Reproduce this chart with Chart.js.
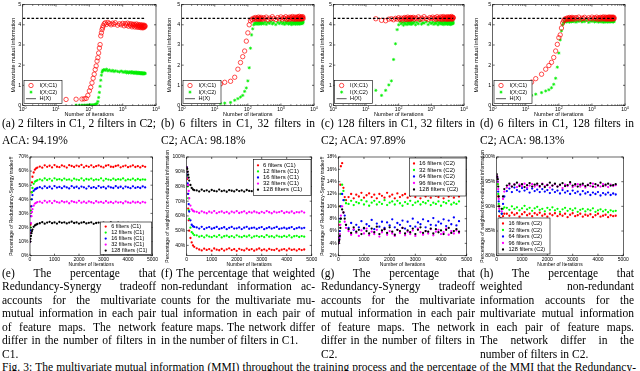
<!DOCTYPE html>
<html>
<head>
<meta charset="utf-8">
<script src="https://cdn.jsdelivr.net/npm/chart.js@4.4.1/dist/chart.umd.min.js"></script>
<style>
  html, body { margin: 0; padding: 0; background: #fff; }
  body { width: 640px; height: 371px; overflow: hidden; position: relative; }
  canvas { position: absolute; }
  .ln { position: absolute; width: 154px; font: 11.5px/13.4px "Liberation Serif", "Times New Roman", serif; color: #000;
        text-align: justify; text-align-last: justify; }
  .ln.end { text-align-last: left; }
  .fig { position: absolute; left: 2px; width: 634px; font: 11.5px/13.4px "Liberation Serif", "Times New Roman", serif;
         text-align: justify; text-align-last: justify; }
</style>
</head>
<body>
<canvas id="ca" width="160" height="118" style="left:0px;top:0px"></canvas>
<canvas id="cb" width="160" height="118" style="left:160px;top:0px"></canvas>
<canvas id="cc" width="162" height="118" style="left:318px;top:0px"></canvas>
<canvas id="cd" width="168" height="118" style="left:472px;top:0px"></canvas>
<canvas id="ce" width="160" height="118" style="left:0px;top:150px"></canvas>
<canvas id="cf" width="160" height="118" style="left:160px;top:150px"></canvas>
<canvas id="cg" width="162" height="118" style="left:318px;top:150px"></canvas>
<canvas id="ch" width="162" height="118" style="left:478px;top:150px"></canvas>
<div id="caps"></div>
<script>
// ---------- top row: MMI vs iterations (log x) ----------
const iterTop = [5, 10, 15, 20, 30, 40, 50, 60, 70, 80, 90, 100, 110, 120, 130, 140, 150, 160, 170, 180, 190, 200, 210, 220, 230, 240, 250, 260,
  280, 300, 330, 360, 400, 450, 500, 550, 600, 700, 800, 900, 1000,
  1100, 1200, 1300, 1400, 1500, 1600, 1700, 1800, 1900, 2000, 2100, 2200, 2300, 2400, 2500, 2600, 2700, 2800, 2900, 3000,
  3100, 3200, 3300, 3400, 3500, 3600, 3700, 3800, 3900, 4000, 4100, 4200, 4300, 4400, 4500, 4600, 4700];
const hxIter = [1, 4700];
const hxVal = [4.32, 4.32];

const aC1 = [null, null, null, 0.30, null, 0.31, null, 0.32, 0.33, 0.35, 0.50, 0.72, 0.90, 1.12, 1.35, 1.55, 1.78, 1.96, 2.20, 2.37, 2.60, 2.85, 3.02, 3.45, 3.60, 3.76, 3.85, 3.95,
  4.05, 4.10, 4.02, 4.12, 4.06, 4.00, 4.08, 4.03, 4.10, 3.98, 4.05, 4.00, 4.07,
  3.95, 4.06, 3.98, 4.08, 3.93, 4.04, 3.97, 4.05, 3.90, 4.02, 3.96, 4.03, 3.89, 3.99, 3.94, 4.04, 3.88, 3.97, 3.93,
  4.01, 3.87, 3.96, 3.92, 4.00, 3.86, 3.95, 3.90, 3.99, 3.85, 3.94, 3.89, 3.98, 3.86, 3.93, 3.90, 3.97, 3.92];
const aC2 = [null, null, null, null, null, 0.02, 0.02, 0.02, 0.02, 0.02, 0.02, 0.03, 0.03, 0.03, 0.03, 0.04, 0.05, 0.07, 0.10, 0.20, 0.40, 0.65, 0.95, 1.25, 1.50, 1.65, 1.72, 1.76,
  1.78, 1.74, 1.80, 1.72, 1.76, 1.70, 1.74, 1.68, 1.72, 1.69, 1.66, 1.71, 1.67,
  1.64, 1.69, 1.62, 1.67, 1.61, 1.66, 1.63, 1.68, 1.60, 1.65, 1.62, 1.66, 1.59, 1.64, 1.61, 1.65, 1.58, 1.63, 1.60,
  1.64, 1.58, 1.62, 1.59, 1.63, 1.57, 1.62, 1.58, 1.61, 1.57, 1.62, 1.58, 1.60, 1.56, 1.61, 1.58, 1.60, 1.59];
const bC1 = [null, null, 1.07, 1.15, 1.20, 1.40, 1.80, 2.13, 2.42, 2.70, 3.19, 3.60, 4.00, 4.20, 4.28, 4.25, 4.33, 4.29, 4.36, 4.27, 4.34, 4.30, 4.38, 4.26, 4.33, 4.29, 4.37, 4.31,
  4.27, 4.35, 4.30, 4.38, 4.25, 4.33, 4.29, 4.40, 4.31, 4.26, 4.36, 4.30, 4.39,
  4.28, 4.35, 4.31, 4.40, 4.26, 4.34, 4.30, 4.38, 4.27, 4.36, 4.32, 4.41, 4.29, 4.34, 4.28, 4.39, 4.31, 4.36, 4.27,
  4.35, 4.33, 4.40, 4.29, 4.37, 4.30, 4.42, 4.28, 4.35, 4.32, 4.39, 4.30, 4.36, 4.29, 4.38, 4.33, 4.40, 4.31];
const bC2 = [null, null, 0.10, 0.12, 0.15, 0.26, 0.34, 0.42, 0.50, 0.70, 0.87, 1.22, 1.87, 2.84, 3.50, 3.80, 4.00, 4.08, 4.05, 4.12, 4.02, 4.10, 4.06, 4.14, 4.03, 4.09, 4.12, 4.04,
  4.10, 4.05, 4.13, 4.02, 4.11, 4.07, 4.15, 4.04, 4.10, 4.01, 4.12, 4.06, 4.14,
  4.05, 4.11, 4.02, 4.13, 4.07, 4.16, 4.03, 4.10, 4.06, 4.14, 4.01, 4.09, 4.12, 4.04, 4.15, 4.07, 4.11, 4.02, 4.13,
  4.08, 4.16, 4.04, 4.10, 4.06, 4.14, 4.03, 4.11, 4.07, 4.15, 4.05, 4.12, 4.08, 4.16, 4.06, 4.13, 4.09, 4.15];
const cC1 = [null, null, null, 4.30, 4.22, 4.20, 4.28, 4.30, 4.25, 4.32, 4.28, 4.35, 4.27, 4.33, 4.24, 4.31, 4.36, 4.28, 4.34, 4.26, 4.38, 4.30, 4.33, 4.27, 4.36, 4.29, 4.35, 4.31,
  4.37, 4.28, 4.34, 4.30, 4.39, 4.26, 4.33, 4.29, 4.40, 4.31, 4.27, 4.36, 4.32,
  4.38, 4.29, 4.35, 4.27, 4.40, 4.31, 4.34, 4.28, 4.39, 4.30, 4.36, 4.26, 4.41, 4.32, 4.35, 4.29, 4.38, 4.30, 4.34,
  4.27, 4.40, 4.31, 4.37, 4.28, 4.36, 4.30, 4.39, 4.32, 4.35, 4.29, 4.41, 4.31, 4.36, 4.28, 4.38, 4.33, 4.35];
const cC2 = [null, null, null, 0.75, 0.50, 0.75, 1.02, 1.22, 2.28, 3.06, 3.76, 4.00, 4.15, 4.05, 4.12, 3.98, 4.10, 4.04, 4.16, 4.01, 4.09, 4.13, 4.03, 4.11, 4.06, 4.17, 4.02, 4.10,
  4.07, 4.14, 4.00, 4.12, 4.05, 4.18, 4.03, 4.10, 4.08, 4.15, 4.01, 4.12, 4.06,
  4.13, 4.02, 4.10, 4.06, 4.17, 4.00, 4.11, 4.07, 4.15, 4.03, 4.12, 4.05, 4.18, 4.01, 4.09, 4.14, 4.04, 4.11, 4.06,
  4.16, 4.02, 4.10, 4.08, 4.15, 4.03, 4.12, 4.05, 4.17, 4.01, 4.10, 4.07, 4.14, 4.04, 4.11, 4.06, 4.16, 4.08];
const dC1 = [0.84, 1.00, 1.16, 1.33, 1.55, 1.80, 1.98, 2.14, 2.38, 2.70, 3.03, 3.36, 3.50, 3.84, 4.09, 4.20, 4.28, 4.25, 4.32, 4.27, 4.34, 4.29, 4.36, 4.28, 4.33, 4.30, 4.37, 4.29,
  4.34, 4.28, 4.36, 4.30, 4.38, 4.27, 4.33, 4.31, 4.37, 4.28, 4.35, 4.30, 4.38,
  4.29, 4.35, 4.31, 4.38, 4.27, 4.34, 4.30, 4.37, 4.28, 4.36, 4.32, 4.39, 4.29, 4.34, 4.31, 4.38, 4.28, 4.35, 4.30,
  4.37, 4.29, 4.36, 4.32, 4.39, 4.28, 4.34, 4.31, 4.37, 4.29, 4.36, 4.30, 4.38, 4.32, 4.35, 4.29, 4.37, 4.31];
const dC2 = [0.30, 0.40, 0.50, 0.56, 0.64, 0.72, 0.78, 0.88, 1.05, 1.35, 1.90, 2.60, 3.25, 3.70, 4.00, 4.10, 4.15, 4.20, 4.14, 4.19, 4.16, 4.22, 4.13, 4.18, 4.21, 4.15, 4.19, 4.17,
  4.16, 4.22, 4.13, 4.19, 4.17, 4.23, 4.14, 4.20, 4.16, 4.22, 4.12, 4.19, 4.17,
  4.21, 4.14, 4.19, 4.16, 4.23, 4.13, 4.18, 4.20, 4.15, 4.22, 4.17, 4.12, 4.20, 4.16, 4.23, 4.14, 4.19, 4.17, 4.22,
  4.13, 4.18, 4.21, 4.15, 4.20, 4.16, 4.23, 4.14, 4.19, 4.17, 4.22, 4.15, 4.20, 4.16, 4.21, 4.14, 4.19, 4.18];

const topTicks = [1, 10, 100, 1000, 10000];
const topExp = ['0', '1', '2', '3', '4'];
const topYTicks = [0, 1, 2, 3, 4, 5];
const topLabels = ['I(X;C1)', 'I(X;C2)', 'H(X)'];

// ---------- bottom row: percentages vs iterations ----------
const iterBot = [0, 20, 40, 60, 80, 100, 150, 200, 250, 300,
  400, 500, 600, 700, 800, 900, 1000, 1100, 1200, 1300, 1400,
  1500, 1600, 1700, 1800, 1900, 2000, 2100, 2200, 2300, 2400, 2500,
  2600, 2700, 2800, 2900, 3000, 3100, 3200, 3300, 3400, 3500, 3600,
  3700, 3800, 3900, 4000, 4100, 4200, 4300, 4400, 4500, 4600, 4700];
const botXTicks = [0, 1000, 2000, 3000, 4000, 5000];
const c1Labels = ['6 filters (C1)', '12 filters (C1)', '16 filters (C1)', '32 filters (C1)', '128 filters (C1)'];
const c2Labels = ['16 filters (C2)', '32 filters (C2)', '64 filters (C2)', '96 filters (C2)', '128 filters (C2)'];
const eTicks = [0, 10, 20, 30, 40, 50, 60, 70];
const fTicks = [40, 50, 60, 70, 80, 90, 100];
const gTicks = [2, 4, 6, 8, 10, 12, 14, 16, 18];
const hTicks = [80, 85, 90, 95, 100];

const eRed = [10, 22, 35, 45, 52, 56, 59, 61, 62, 62.5,
  63.2, 62.4, 64.1, 63.0, 63.8, 62.6, 64.3, 63.1, 62.8, 64.0, 63.4,
  62.5, 64.2, 63.6, 62.9, 63.9, 63.3, 64.4, 62.7, 63.7, 63.0, 64.1,
  62.8, 63.5, 64.0, 63.2, 62.6, 63.8, 64.3, 63.1, 62.9, 63.6, 64.0,
  62.7, 63.4, 63.9, 62.8, 63.3, 64.1, 62.9, 63.5, 62.6, 63.7, 63.0];
const eGreen = [10, 20, 32, 40, 45, 48, 51, 52.5, 53, 53.5,
  54.2, 53.4, 54.8, 53.7, 54.5, 53.2, 54.9, 53.9, 54.3, 53.5, 54.7,
  53.8, 54.1, 53.3, 54.6, 54.0, 53.6, 54.8, 53.4, 54.4, 53.9, 54.7,
  53.5, 54.2, 53.8, 54.9, 53.3, 54.5, 54.0, 53.6, 54.6, 53.7, 54.3,
  53.9, 54.8, 53.4, 54.2, 53.8, 54.6, 53.5, 54.4, 53.7, 54.1, 53.9];
const eBlue = [10, 18, 28, 35, 40, 43, 46, 47, 47.5, 48,
  48.6, 47.8, 49.2, 48.1, 48.9, 47.6, 49.4, 48.3, 48.8, 47.9, 49.1,
  48.4, 47.7, 49.3, 48.2, 48.9, 47.8, 49.0, 48.5, 47.6, 49.2, 48.1,
  48.7, 47.9, 49.4, 48.3, 48.8, 47.7, 49.1, 48.4, 48.0, 49.3, 48.2,
  48.9, 47.8, 49.0, 48.5, 47.9, 49.2, 48.1, 48.7, 48.0, 49.1, 48.4];
const eMag = [10, 16, 23, 28, 31, 33, 35.5, 37, 37.5, 38,
  38.3, 37.5, 38.9, 37.8, 38.6, 37.3, 38.8, 38.0, 37.6, 38.7, 37.9,
  38.4, 37.2, 38.6, 38.1, 37.7, 38.9, 37.6, 38.3, 37.4, 38.5, 37.9,
  37.3, 38.6, 37.8, 38.2, 37.4, 38.7, 37.6, 38.1, 37.3, 38.4, 37.7,
  38.0, 37.2, 38.5, 37.8, 37.4, 38.3, 37.6, 38.1, 37.3, 38.2, 37.7];
const eBlack = [10, 12, 14, 16, 17.5, 18.5, 20.5, 21.5, 22, 22.5,
  23.0, 23.8, 22.7, 23.5, 24.0, 23.1, 23.6, 22.8, 23.9, 23.3, 23.7,
  22.9, 23.5, 24.1, 23.2, 23.6, 22.8, 23.4, 23.8, 22.9, 23.3, 23.7,
  22.6, 23.2, 23.5, 22.8, 23.4, 22.7, 23.1, 23.6, 22.6, 23.0, 23.4,
  22.5, 23.2, 22.8, 23.3, 22.6, 23.0, 22.7, 23.2, 22.5, 22.9, 22.6];

const fRed = [92, 85, 75, 65, 57, 50, 45, 42, 40, 39,
  38.0, 37.2, 36.6, 37.8, 36.9, 37.5, 36.4, 37.9, 37.1, 36.7, 37.6,
  36.5, 37.3, 38.0, 36.8, 37.4, 36.3, 37.7, 37.0, 36.6, 37.8, 36.9,
  37.5, 36.4, 37.2, 37.9, 36.7, 37.3, 36.5, 37.6, 37.0, 36.8, 37.7,
  36.4, 37.1, 37.5, 36.6, 37.8, 36.9, 37.3, 36.5, 37.4, 36.8, 37.2];
const fGreen = [92, 87, 80, 72, 64, 58, 52, 49, 48, 47,
  46.8, 45.9, 46.4, 45.5, 46.7, 46.0, 45.6, 46.5, 45.8, 46.9, 45.4,
  46.2, 46.6, 45.7, 46.3, 45.5, 46.8, 46.0, 45.6, 46.4, 45.9, 46.7,
  45.3, 46.1, 46.5, 45.8, 46.3, 45.6, 46.9, 45.9, 46.2, 45.5, 46.6,
  46.0, 45.7, 46.4, 45.8, 46.7, 45.4, 46.2, 46.5, 45.7, 46.3, 45.9];
const fBlue = [93, 88, 82, 75, 68, 63, 57, 54, 53, 52.5,
  52.2, 51.4, 52.6, 51.1, 51.9, 52.4, 51.3, 51.8, 52.5, 51.2, 51.7,
  52.3, 51.0, 51.9, 52.5, 51.4, 51.6, 52.2, 51.1, 52.0, 52.6, 51.3,
  51.8, 52.1, 51.2, 51.9, 52.4, 51.0, 51.7, 52.3, 51.4, 51.9, 52.5,
  51.2, 51.6, 52.0, 51.3, 51.8, 52.4, 51.1, 51.7, 52.2, 51.5, 51.9];
const fMag = [93, 90, 86, 81, 77, 72, 67, 64.5, 63.5, 63,
  62.8, 62.0, 63.1, 62.4, 61.8, 62.9, 62.2, 63.3, 61.9, 62.6, 63.0,
  62.1, 62.7, 61.7, 62.9, 62.3, 63.2, 62.0, 62.5, 63.1, 61.8, 62.7,
  62.2, 63.0, 62.4, 61.9, 62.8, 62.1, 63.3, 62.5, 61.8, 62.9, 62.3,
  62.6, 63.2, 62.0, 62.7, 62.2, 63.0, 61.9, 62.6, 62.4, 63.1, 62.3];
const fBlack = [93, 92, 90, 88, 86, 84, 81, 79, 78, 77.5,
  77.3, 76.6, 77.8, 76.9, 77.4, 76.5, 77.6, 77.0, 76.7, 77.9, 76.8,
  77.2, 76.4, 77.5, 77.1, 76.6, 77.7, 76.9, 77.3, 76.5, 77.6, 77.0,
  76.8, 77.8, 76.6, 77.2, 76.9, 77.5, 76.4, 77.3, 77.0, 76.7, 77.6,
  76.8, 77.4, 76.5, 77.1, 77.7, 76.9, 77.3, 76.6, 77.5, 77.0, 76.8];

const gRed = [4, 5, 7, 10, 13.5, 16.5, 17, 13, 11.5, 11,
  11.5, 12.0, 11.3, 11.9, 11.6, 12.2, 11.4, 11.8, 12.1, 11.5, 11.9,
  11.3, 12.0, 11.7, 11.4, 12.2, 11.6, 11.9, 11.3, 12.1, 11.5, 11.8,
  12.0, 11.4, 11.7, 12.2, 11.5, 11.9, 11.3, 12.0, 11.6, 11.8, 11.4,
  12.1, 11.7, 11.5, 11.9, 11.3, 12.0, 11.6, 11.8, 11.4, 11.9, 11.6];
const gGreen = [4, 4.5, 5.5, 7.5, 10, 12, 13.5, 12.5, 11, 10.5,
  10.4, 10.9, 10.2, 10.7, 10.5, 11.0, 10.3, 10.8, 10.1, 10.6, 10.9,
  10.3, 10.7, 10.4, 11.0, 10.2, 10.6, 10.8, 10.3, 10.9, 10.5, 10.1,
  10.7, 10.4, 10.9, 10.2, 10.6, 10.8, 10.3, 10.7, 10.5, 10.9, 10.2,
  10.6, 10.4, 10.8, 10.1, 10.7, 10.5, 10.9, 10.3, 10.6, 10.4, 10.8];
const gBlue = [4, 4.5, 5, 6, 8, 10, 12, 11, 8.5, 7,
  6.5, 7.3, 6.2, 7.0, 6.6, 7.6, 6.4, 7.1, 6.8, 7.8, 6.3,
  7.2, 6.7, 7.5, 6.5, 7.4, 6.9, 7.9, 6.6, 7.3, 7.0, 7.7,
  6.4, 7.5, 6.8, 8.0, 6.7, 7.4, 7.1, 7.9, 6.6, 7.6, 7.0,
  8.1, 6.9, 7.5, 7.2, 7.9, 6.8, 7.7, 7.1, 8.2, 6.9, 7.6];
const gMag = [4, 4.2, 4.8, 5.5, 7, 8.5, 10, 9, 7.5, 6.5,
  6.0, 5.4, 6.3, 5.7, 5.2, 6.1, 5.6, 6.4, 5.3, 5.9, 5.5,
  6.2, 5.1, 5.8, 6.3, 5.4, 6.0, 5.6, 5.2, 6.2, 5.7, 6.5,
  5.3, 5.9, 5.5, 6.1, 5.2, 6.4, 5.8, 5.4, 6.0, 5.6, 6.3,
  5.3, 5.9, 6.2, 5.5, 5.8, 6.4, 5.4, 6.0, 5.6, 6.1, 5.7];
const gBlack = [4, 4.3, 4.6, 5.2, 6.5, 8, 9.5, 9, 8, 7,
  6.3, 5.7, 6.6, 5.9, 6.2, 5.5, 6.5, 6.0, 5.6, 6.4, 5.8,
  6.7, 5.5, 6.1, 6.3, 5.7, 6.6, 5.9, 5.4, 6.2, 6.0, 6.5,
  5.6, 6.1, 5.8, 6.4, 5.5, 6.2, 6.6, 5.7, 6.0, 5.9, 6.4,
  5.6, 6.3, 5.8, 6.1, 5.5, 6.2, 6.5, 5.7, 6.0, 6.3, 5.9];

const hRed = [96, 95.5, 94.5, 92, 90, 88, 86.5, 87.5, 88, 88.5,
  88.5, 88.1, 88.7, 88.3, 88.6, 87.9, 88.4, 88.8, 88.2, 88.5, 88.0,
  88.6, 88.3, 88.7, 88.1, 88.4, 87.9, 88.5, 88.2, 88.6, 88.0, 88.4,
  88.1, 88.5, 87.8, 88.3, 88.6, 88.0, 88.2, 88.5, 87.9, 88.3, 88.1,
  88.4, 87.8, 88.2, 88.5, 87.9, 88.1, 88.3, 87.8, 88.2, 88.0, 88.1];
const hGreen = [96, 95.5, 94.5, 92.5, 90.5, 89, 87.5, 88.5, 89.5, 89.8,
  89.7, 89.3, 90.0, 89.5, 89.8, 89.2, 89.6, 90.1, 89.4, 89.7, 89.1,
  89.6, 89.9, 89.3, 89.5, 89.0, 89.7, 89.3, 89.8, 89.2, 89.5, 88.9,
  89.4, 89.7, 89.1, 89.5, 89.2, 89.6, 88.9, 89.3, 89.5, 89.0, 89.4,
  89.2, 89.6, 88.9, 89.2, 89.4, 89.0, 89.3, 88.8, 89.2, 89.0, 89.1];
const hBlue = [96, 95.8, 95, 93, 91, 89, 87, 88.5, 90.5, 92,
  93.1, 93.6, 92.9, 93.8, 93.3, 93.0, 93.7, 93.2, 93.5, 92.8, 93.6,
  93.1, 93.4, 92.9, 93.5, 93.0, 93.3, 92.7, 93.4, 92.9, 93.2, 92.6,
  93.3, 92.8, 93.1, 92.5, 93.2, 92.7, 93.0, 92.4, 93.1, 92.6, 92.9,
  92.3, 92.8, 92.5, 92.9, 92.2, 92.7, 92.4, 92.8, 92.3, 92.6, 92.4];
const hMag = [96.2, 95.8, 95, 93.5, 91.5, 89.5, 87.5, 89, 91.5, 93,
  93.8, 94.3, 94.0, 94.5, 93.9, 94.4, 94.1, 94.6, 93.8, 94.2, 94.5,
  94.0, 94.3, 93.9, 94.6, 94.1, 94.4, 93.8, 94.2, 94.5, 94.0, 94.3,
  93.7, 94.4, 94.1, 94.6, 93.9, 94.2, 94.5, 94.0, 94.3, 93.8, 94.4,
  94.1, 94.6, 93.9, 94.3, 94.0, 94.5, 94.2, 93.9, 94.4, 94.1, 94.3];
const hBlack = [96.5, 96, 95.5, 94, 92, 90, 87.5, 89.5, 92, 93.5,
  94.2, 94.6, 94.0, 94.4, 94.8, 94.1, 94.5, 93.9, 94.3, 94.7, 94.0,
  94.4, 94.6, 94.1, 94.5, 93.9, 94.3, 94.8, 94.2, 94.6, 94.0, 94.4,
  94.7, 94.1, 94.3, 94.9, 94.2, 94.5, 94.0, 94.4, 94.6, 94.1, 94.3,
  94.7, 94.0, 94.5, 94.2, 94.8, 94.1, 94.4, 94.6, 94.2, 94.3, 94.5];

const botColors = ['#ff0000', '#00ff00', '#0000ff', '#ff00ff', '#000000'];

// ---------- captions ----------
const capTop = [
  ['(a) 2 filters in C1, 2 filters in C2;', 'ACA: 94.19%'],
  ['(b) 6 filters in C1, 32 filters in', 'C2; ACA: 98.18%'],
  ['(c) 128 filters in C1, 32 filters in', 'C2; ACA: 97.89%'],
  ['(d) 6 filters in C1, 128 filters in', 'C2; ACA: 98.13%']
];
const capBot = [
  ['(e) The percentage that', 'Redundancy-Synergy tradeoff', 'accounts for the multivariate', 'mutual information in each pair',
   'of feature maps. The network', 'differ in the number of filters in', 'C1.'],
  ['(f) The percentage that weighted', 'non-redundant information ac-', 'counts for the multivariate mu-',
   'tual information in each pair of', 'feature maps. The network differ', 'in the number of filters in C1.'],
  ['(g) The percentage that', 'Redundancy-Synergy tradeoff', 'accounts for the multivariate', 'mutual information in each pair',
   'of feature maps. The network', 'differ in the number of filters in', 'C2.'],
  ['(h) The percentage that', 'weighted non-redundant', 'information accounts for the', 'multivariate mutual information',
   'in each pair of feature maps.', 'The network differ in the', 'number of filters in C2.']
];
const figText = 'Fig. 3: The multivariate mutual information (MMI) throughout the training process and the percentage of the MMI that the Redundancy-Synergy tradeoff and the weighted non-redundant information account for.';

const colLeft = [2, 161, 321, 480];
const caps = document.getElementById('caps');
function addLine(text, left, center, last) {
  const d = document.createElement('div');
  d.className = last ? 'ln end' : 'ln';
  d.style.left = left + 'px';
  d.style.top = (center - 6.7) + 'px';
  d.textContent = text;
  caps.appendChild(d);
}
capTop.forEach((lines, c) => {
  lines.forEach((t, i) => addLine(t, colLeft[c], [124, 141][i], i === lines.length - 1));
});
capBot.forEach((lines, c) => {
  lines.forEach((t, i) => addLine(t, colLeft[c], 273.5 + i * 13.45, i === lines.length - 1));
});
const fig = document.createElement('div');
fig.className = 'fig';
fig.style.top = (368 - 6.7) + 'px';
fig.textContent = figText;
caps.appendChild(fig);

// ---------- chart helpers ----------
const FONT = '"Liberation Sans", Arial, Helvetica, sans-serif';
Chart.defaults.font.family = FONT;
Chart.defaults.color = '#000';

const pts = (xs, ys) => xs.map((x, i) => ({x: x, y: ys[i]})).filter(p => p.y !== null && p.y !== undefined);

function seg(ctx, x1, y1, x2, y2) {
  ctx.beginPath(); ctx.moveTo(x1, y1); ctx.lineTo(x2, y2); ctx.stroke();
}

function drawMark(ctx, ds, x, y) {
  ctx.save();
  ctx.setLineDash([]);
  if (ds.showLine) {
    ctx.strokeStyle = '#444'; ctx.lineWidth = 0.9;
    seg(ctx, x - 5, y, x + 5, y);
  } else if (ds.pointStyle === 'star') {
    const r = ds.pointRadius, d = r * 0.707;
    ctx.strokeStyle = ds.borderColor; ctx.lineWidth = ds.pointBorderWidth;
    seg(ctx, x - r, y, x + r, y); seg(ctx, x, y - r, x, y + r);
    seg(ctx, x - d, y - d, x + d, y + d); seg(ctx, x - d, y + d, x + d, y - d);
  } else {
    ctx.beginPath(); ctx.arc(x, y, ds.pointRadius, 0, Math.PI * 2);
    if (ds.pointBorderWidth > 0) { ctx.lineWidth = ds.pointBorderWidth; ctx.strokeStyle = ds.borderColor; ctx.stroke(); }
    else { ctx.fillStyle = ds.backgroundColor; ctx.fill(); }
  }
  ctx.restore();
}

function drawLegend(chart, L) {
  const ctx = chart.ctx, a = chart.chartArea;
  const x0 = L.corner[1] === 'l' ? a.left + L.mx : a.right - L.mx - L.w;
  const y0 = L.corner[0] === 't' ? a.top + L.my : a.bottom - L.my - L.h;
  ctx.fillStyle = '#fff';
  ctx.fillRect(x0, y0, L.w, L.h);
  ctx.strokeStyle = '#000'; ctx.lineWidth = 0.6;
  ctx.strokeRect(x0, y0, L.w, L.h);
  L.order.forEach((di, k) => {
    const ds = chart.data.datasets[di];
    const cy = y0 + L.first + k * L.row;
    drawMark(ctx, ds, x0 + L.markX, cy);
    ctx.fillStyle = '#000';
    ctx.font = L.size + 'px ' + FONT;
    ctx.textAlign = 'left'; ctx.textBaseline = 'middle';
    ctx.fillText(ds.label, x0 + L.textX, cy);
  });
}

// MATLAB-like box, inward ticks, log tick labels and legend
function framePlugin(cfg) {
  return {
    id: 'frame',
    afterDraw(chart) {
      const ctx = chart.ctx, a = chart.chartArea, sx = chart.scales.x, sy = chart.scales.y;
      ctx.save();
      ctx.strokeStyle = '#000'; ctx.lineWidth = 0.6;
      sx.ticks.forEach(t => {
        const p = sx.getPixelForValue(t.value);
        seg(ctx, p, a.bottom, p, a.bottom - 2); seg(ctx, p, a.top, p, a.top + 2);
      });
      sy.ticks.forEach(t => {
        const p = sy.getPixelForValue(t.value);
        seg(ctx, a.left, p, a.left + 2, p); seg(ctx, a.right, p, a.right - 2, p);
      });
      (cfg.minor || []).forEach(v => {
        const p = sx.getPixelForValue(v);
        seg(ctx, p, a.bottom, p, a.bottom - 1.2); seg(ctx, p, a.top, p, a.top + 1.2);
      });
      ctx.strokeRect(a.left, a.top, a.right - a.left, a.bottom - a.top);
      if (cfg.exps) {
        ctx.fillStyle = '#000'; ctx.textBaseline = 'middle'; ctx.textAlign = 'left';
        sx.ticks.forEach((t, i) => {
          const p = sx.getPixelForValue(t.value);
          ctx.font = '5px ' + FONT;
          const wb = ctx.measureText('10').width;
          ctx.font = '3.6px ' + FONT;
          const we = ctx.measureText(cfg.exps[i]).width;
          const x = p - (wb + we) / 2, y = a.bottom + 4;
          ctx.font = '5px ' + FONT;
          ctx.fillText('10', x, y);
          ctx.font = '3.6px ' + FONT;
          ctx.fillText(cfg.exps[i], x + wb, y - 2);
        });
      }
      if (cfg.legend) drawLegend(chart, cfg.legend);
      ctx.restore();
    }
  };
}

const topMinor = [];
[1, 10, 100, 1000].forEach(b => { for (let m = 2; m <= 9; m++) topMinor.push(b * m); });

function topChart(id, c1, c2, g) {
  const datasets = [
    {label: topLabels[2], data: pts(hxIter, hxVal), showLine: true, borderColor: '#000', backgroundColor: '#000',
     borderWidth: 1.1, borderDash: [2.6, 1.8], pointRadius: 0, order: 0},
    {label: topLabels[0], data: pts(iterTop, c1), pointStyle: 'circle', pointRadius: 2.2, pointBorderWidth: 0.7,
     borderWidth: 0.7, borderColor: '#ff0000', backgroundColor: 'rgba(255,255,255,0)', order: 1},
    {label: topLabels[1], data: pts(iterTop, c2), pointStyle: 'star', pointRadius: 1.6, pointBorderWidth: 0.7,
     borderWidth: 0.7, borderColor: '#00ee00', backgroundColor: '#00ee00', order: 2}
  ];
  return new Chart(document.getElementById(id), {
    type: 'scatter',
    data: {datasets: datasets},
    options: {
      responsive: false, animation: false, events: [],
      layout: {autoPadding: false, padding: {left: g.pl, right: g.pr, top: 3, bottom: 0}},
      plugins: {legend: {display: false}, tooltip: {enabled: false}},
      scales: {
        x: {type: 'logarithmic', min: 1, max: 10000,
            afterBuildTicks: s => { s.ticks = topTicks.map(v => ({value: v})); },
            afterFit: s => { s.height = 12.5; },
            ticks: {display: false}, grid: {display: false, drawTicks: false}, border: {display: false},
            title: {display: true, text: 'Number of iterations', font: {size: 5.5}, padding: 0}},
        y: {type: 'linear', min: 0, max: 5,
            afterBuildTicks: s => { s.ticks = topYTicks.map(v => ({value: v})); },
            afterFit: s => { s.width = g.yw; },
            ticks: {font: {size: 5.2}, padding: 1.5, callback: v => String(v)},
            grid: {display: false, drawTicks: false}, border: {display: false},
            title: {display: true, text: 'Multivariate mutual information', font: {size: 5.5}, padding: 0}}
      }
    },
    plugins: [framePlugin({exps: topExp, minor: topMinor,
      legend: {corner: 'bl', w: 38, h: 23, mx: 1.3, my: 2, first: 5, row: 6.6, markX: 7, textX: 15.5, size: 5.6, order: [1, 2, 0]}})]
  });
}

function botChart(id, series, labels, g) {
  const datasets = series.map((ys, k) => ({
    label: labels[k], data: pts(iterBot, ys), pointStyle: 'circle', pointRadius: 1.15, pointBorderWidth: 0, borderWidth: 0,
    borderColor: botColors[k], backgroundColor: botColors[k], order: 4 - k
  }));
  return new Chart(document.getElementById(id), {
    type: 'scatter',
    data: {datasets: datasets},
    options: {
      responsive: false, animation: false, events: [],
      layout: {autoPadding: false, padding: {left: g.pl, right: g.pr, top: 7, bottom: 0}},
      plugins: {legend: {display: false}, tooltip: {enabled: false}},
      scales: {
        x: {type: 'linear', min: 0, max: 5000,
            afterBuildTicks: s => { s.ticks = botXTicks.map(v => ({value: v})); },
            afterFit: s => { s.height = 12.3; },
            ticks: {font: {size: 5}, padding: 1.3, maxRotation: 0, autoSkip: false, callback: v => String(v)},
            grid: {display: false, drawTicks: false}, border: {display: false},
            title: {display: true, text: 'Number of Iterations', font: {size: 5}, padding: 0}},
        y: {type: 'linear', min: g.min, max: g.max,
            afterBuildTicks: s => { s.ticks = g.ticks.map(v => ({value: v})); },
            afterFit: s => { s.width = g.yw; },
            ticks: {font: {size: 5}, padding: 1.5, autoSkip: false, callback: v => v + '%'},
            grid: {display: false, drawTicks: false}, border: {display: false},
            title: {display: true, text: g.title, font: {size: 5}, padding: 0}}
      }
    },
    plugins: [framePlugin({legend: g.legend})]
  });
}

topChart('ca', aC1, aC2, {pl: 10, yw: 12.7, pr: 4});
topChart('cb', bC1, bC2, {pl: 6.5, yw: 15.2, pr: 6});
topChart('cc', cC1, cC2, {pl: 1.5, yw: 13.8, pr: 16});
topChart('cd', dC1, dC2, {pl: 1.5, yw: 19.2, pr: 15});

const rsTitle = 'Percentage of Redundancy-Synergy tradeoff';
const wnTitle = 'Percentage of weighted non-redundant information';
botChart('ce', [eRed, eGreen, eBlue, eMag, eBlack], c1Labels,
  {pl: 8.4, yw: 21.6, pr: 7.5, min: 0, max: 70, ticks: eTicks, title: rsTitle,
   legend: {corner: 'br', w: 51.5, h: 32.5, mx: 0.8, my: 1.2, first: 4.6, row: 6.0, markX: 5.5, textX: 11, size: 5.5, order: [0, 1, 2, 3, 4]}});
botChart('cf', [fRed, fGreen, fBlue, fMag, fBlack], c1Labels,
  {pl: 5, yw: 21.7, pr: 8.3, min: 33, max: 100, ticks: fTicks, title: wnTitle,
   legend: {corner: 'tr', w: 57.5, h: 36, mx: 0.7, my: 2.5, first: 5.8, row: 6.1, markX: 4.5, textX: 9.5, size: 6.0, order: [0, 1, 2, 3, 4]}});
botChart('cg', [gRed, gGreen, gBlue, gMag, gBlack], c2Labels,
  {pl: 1.7, yw: 18.6, pr: 13.3, min: 2, max: 18, ticks: gTicks, title: rsTitle,
   legend: {corner: 'tr', w: 56.5, h: 38, mx: 0.7, my: 1, first: 5.5, row: 6.5, markX: 4.5, textX: 9.5, size: 6.0, order: [0, 1, 2, 3, 4]}});
botChart('ch', [hRed, hGreen, hBlue, hMag, hBlack], c2Labels,
  {pl: 1.7, yw: 17, pr: 16.7, min: 80, max: 100, ticks: hTicks, title: wnTitle,
   legend: {corner: 'bl', w: 52, h: 36, mx: 1.3, my: 1.7, first: 5.5, row: 6.5, markX: 5, textX: 10.5, size: 5.6, order: [0, 1, 2, 3, 4]}});
</script>
</body>
</html>
